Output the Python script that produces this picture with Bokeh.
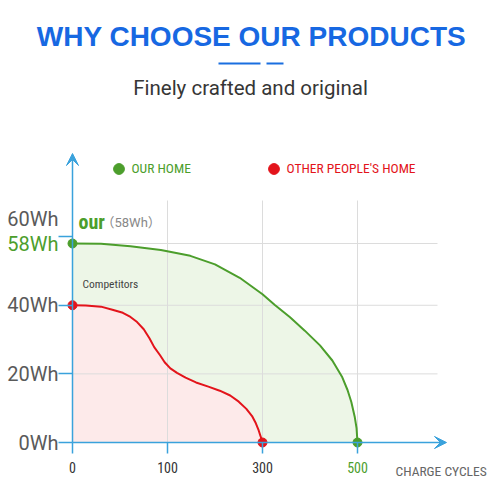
import numpy as np
from bokeh.plotting import figure
from bokeh.models import Range1d, FixedTicker, Label, Arrow, VeeHead, Legend, LegendItem
from bokeh.embed import file_html
from bokeh.resources import INLINE

# ---------------- data ----------------
title_text = "WHY CHOOSE OUR PRODUCTS"
subtitle_text = "Finely crafted and original"
x_ticks = [0, 100, 300, 500]
x_tick_labels = ["0", "100", "300", "500"]
y_ticks = [0, 20, 40, 60]
y_tick_labels = ["0Wh", "20Wh", "40Wh", "60Wh"]
ours_name = "OUR HOME"
others_name = "OTHER PEOPLE'S HOME"
x_axis_name = "CHARGE  CYCLES"
ours_note = "our"
ours_note_value = "（58Wh）"
ours_value_label = "58Wh"
others_note = "Competitors"
ours_cycles = [0, 30, 61, 93, 148, 200, 252, 300, 326, 358, 389, 421, 447, 468, 479, 487, 494, 498, 500]
ours_wh = [58, 57.9, 57.2, 56.1, 54.4, 51.9, 48.0, 43.2, 40.1, 36.5, 32.6, 28.3, 23.9, 19.0, 15.3, 11.8, 7.6, 4.2, 0]
others_cycles = [0, 14, 30, 42, 53, 61, 68, 75, 81, 86, 92, 97, 106, 120, 138, 160, 186, 210, 232,
                 250, 266, 278, 286, 292, 296, 300]
others_wh = [40, 39.9, 39.6, 38.7, 37.8, 36.6, 35.1, 33.0, 30.4, 27.8, 25.5, 23.4, 21.6, 20.3, 18.9,
             17.5, 16.3, 15.1, 13.7, 11.9, 9.8, 7.7, 5.6, 3.5, 1.8, 0]
grid_wh = [20, 40, 58]

# ---------------- styles ----------------
GREEN = "#4c9e2c"
RED = "#e3141b"
AXIS = "#3aa2dc"
GRID = "#dcdcdc"
NARROW = "Roboto Condensed, Roboto"

# the chart's x axis spaces its ticks evenly: map cycles onto tick index
tick_idx = np.arange(len(x_ticks))
def cyc(c):
    return np.interp(c, x_ticks, tick_idx)

# layout helpers (canvas pixel -> data units)
X0, XS = 72.0, 95.0
Y0, YS = 442.0, (442.0 - 243.0) / 58.0
def px_x(px):
    return (px - X0) / XS
def px_y(py):
    return (Y0 - py) / YS

W = H = 500
p = figure(width=W, height=H, output_backend="svg", toolbar_location=None,
           x_range=Range1d(px_x(0), px_x(W)), y_range=Range1d(px_y(H), px_y(0)),
           min_border_left=0, min_border_right=0, min_border_top=0, min_border_bottom=0)
p.title.visible = False
p.outline_line_color = None
p.background_fill_color = "white"
p.border_fill_color = "white"
p.grid.visible = False

# axes, drawn at the data origin
p.xaxis.fixed_location = 0
p.yaxis.fixed_location = 0
p.xaxis.ticker = FixedTicker(ticks=[int(i) for i in tick_idx])
p.xaxis.major_label_overrides = {int(i): (lab if lab != "500" else "") for i, lab in zip(tick_idx, x_tick_labels)}
p.yaxis.ticker = FixedTicker(ticks=y_ticks)
p.yaxis.major_label_overrides = {v: (lab if v != 60 else "") for v, lab in zip(y_ticks, y_tick_labels)}
for ax in (p.xaxis[0], p.yaxis[0]):
    ax.axis_line_color = None
    ax.major_tick_line_color = AXIS
    ax.major_tick_line_width = 1.5
    ax.minor_tick_line_color = None
p.yaxis.major_tick_in = 0
p.yaxis.major_tick_out = 14
p.yaxis.major_label_standoff = 0
p.yaxis.major_label_text_font = "Roboto"
p.yaxis.major_label_text_font_size = "20px"
p.yaxis.major_label_text_color = "#5a5a5a"
p.xaxis.major_tick_in = 0
p.xaxis.major_tick_out = 11
p.xaxis.major_label_standoff = 8
p.xaxis.major_label_text_font = NARROW
p.xaxis.major_label_text_font_size = "14px"
p.xaxis.major_label_text_color = "#333333"

# fills
gx = cyc(ours_cycles)
rx = cyc(others_cycles)
p.varea(x=gx, y1=0, y2=ours_wh, fill_color="#7cc257", fill_alpha=0.14)
p.varea(x=rx, y1=0, y2=others_wh, fill_color="white", fill_alpha=1.0)
p.varea(x=rx, y1=0, y2=others_wh, fill_color="#f26060", fill_alpha=0.13)

# grid
vx = cyc(x_ticks[1:])
p.segment(x0=vx, y0=0, x1=vx, y1=px_y(200), line_color=GRID, line_width=1)
p.segment(x0=0, y0=grid_wh, x1=px_x(437), y1=grid_wh, line_color=GRID, line_width=1)

# curves
p.line(gx, ours_wh, line_color=GREEN, line_width=2)
p.line(rx, others_wh, line_color=RED, line_width=2)
g_dots = p.scatter([gx[0], gx[-1]], [ours_wh[0], ours_wh[-1]], size=9, fill_color=GREEN, line_color=GREEN)
r_dots = p.scatter([rx[0], rx[-1]], [others_wh[0], others_wh[-1]], size=9, fill_color=RED, line_color=RED)

# axis arrows
p.add_layout(Arrow(end=VeeHead(size=12, fill_color=AXIS, line_color=AXIS), x_start=0, y_start=0,
                   x_end=0, y_end=px_y(153), line_color=AXIS, line_width=1.5))
p.add_layout(Arrow(end=VeeHead(size=12, fill_color=AXIS, line_color=AXIS), x_start=0, y_start=0,
                   x_end=px_x(446), y_end=0, line_color=AXIS, line_width=1.5))

# legends
for name, rend, col, lx in ((ours_name, g_dots, GREEN, 104.5), (others_name, r_dots, RED, 259.5)):
    lg = Legend(items=[LegendItem(label=name, renderers=[rend])], location=(lx, H - 181.5),
                orientation="horizontal", glyph_width=27, glyph_height=27, label_standoff=0,
                padding=0, margin=0, spacing=0, border_line_color=None, background_fill_alpha=0,
                label_text_font=NARROW, label_text_font_size="13.5px", label_text_color=col)
    p.add_layout(lg)

# texts
def lab(text, x, y, size, color, font="Roboto", style="normal", align="left", base="middle", xo=0, yo=0):
    p.add_layout(Label(x=x, y=y, text=text, text_font_size=size, text_color=color, text_font=font,
                       text_font_style=style, text_align=align, text_baseline=base,
                       x_offset=xo, y_offset=yo))

lab(title_text, px_x(251), px_y(36), "28px", "#1768e2", font="Liberation Sans", style="bold", align="center")
lab(subtitle_text, px_x(250), px_y(87), "20.5px", "#363636", align="center")
p.add_layout(Arrow(end=None, x_start=px_x(218), y_start=px_y(63), x_end=px_x(260), y_end=px_y(63),
                   line_color="#1a6fe0", line_width=2))
p.add_layout(Arrow(end=None, x_start=px_x(266), y_start=px_y(63), x_end=px_x(283), y_end=px_y(63),
                   line_color="#1a6fe0", line_width=2))

lab(y_tick_labels[-1], 0, 60, "20px", "#5a5a5a", align="right", xo=-14, yo=18)
lab(ours_value_label, 0, ours_wh[0], "20px", GREEN, align="right", xo=-14)
lab(ours_note, 0, ours_wh[0], "20px", GREEN, font=NARROW, style="bold", xo=6, yo=22)
lab(ours_note_value, 0, ours_wh[0], "13px", "#888888", font="Roboto, Noto Sans CJK SC", xo=29, yo=21)
lab(others_note, 0, others_wh[0], "11.5px", "#444444", font=NARROW, xo=10, yo=21)
lab(x_tick_labels[-1], cyc(500), 0, "14px", GREEN, font=NARROW, align="center", base="top", yo=-19)
lab(x_axis_name, cyc(500), 0, "13.5px", "#666666", font=NARROW, base="top", xo=38, yo=-20)

open("out.html", "w").write(file_html(p, INLINE))
